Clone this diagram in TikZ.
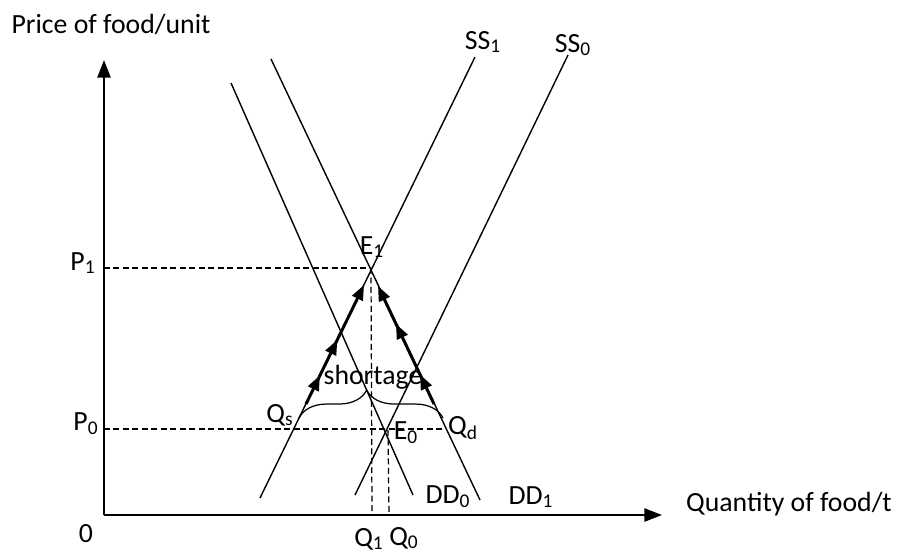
\documentclass[tikz,border=0pt]{standalone}
\usepackage{fontspec}
\setmainfont{Carlito}
\usetikzlibrary{arrows.meta,decorations.pathreplacing,decorations.markings}
\tikzset{
  curve/.style={line width=0.8pt},
  axis/.style={line width=1pt,-{Triangle[length=10pt,width=7.5pt]}},
  guide/.style={line width=0.7pt,dash pattern=on 3.4pt off 2pt},
  lbl/.style={inner sep=0pt,font=\fontsize{15.8}{18}\selectfont},
  flow/.style n args={2}{line width=1.7pt,-{Triangle[length=8.5pt,width=6.5pt]},
    postaction={decorate},
    decoration={markings,
      mark=at position #1 with {\arrow{Triangle[length=8.5pt,width=6.5pt]}},
      mark=at position #2 with {\arrow{Triangle[length=8.5pt,width=6.5pt]}}}},
}
\begin{document}
\begin{tikzpicture}[x=0.02cm,y=-0.02cm]
  \useasboundingbox (0,0) rectangle (899,556);
  % axes
  \coordinate (O) at (104,515);
  \coordinate (ytop) at (104,60);
  \coordinate (xend) at (662,515);
  \draw[axis] (O) -- (ytop);
  \draw[axis] (O) -- (xend);
  % supply and demand curves
  \coordinate (ss1lo) at (260,498);  \coordinate (ss1hi) at (475,57);
  \coordinate (ss0lo) at (355,495);  \coordinate (ss0hi) at (568,55);
  \coordinate (dd0hi) at (231,83);   \coordinate (dd0lo) at (413,495);
  \coordinate (dd1hi) at (271,59);   \coordinate (dd1lo) at (480,500);
  \draw[curve] (ss1lo) -- (ss1hi);
  \draw[curve] (ss0lo) -- (ss0hi);
  \draw[curve] (dd0hi) -- (dd0lo);
  \draw[curve] (dd1hi) -- (dd1lo);
  % equilibria and guide lines
  \coordinate (E1) at (371,268);
  \coordinate (E0) at (388,430);
  \coordinate (p1) at (104,268);
  \coordinate (p0) at (104,429);
  \coordinate (qd) at (445,429);
  \coordinate (q1) at (372,515);
  \coordinate (q0) at (389,515);
  \draw[guide] (p1) -- (E1);
  \draw[guide] (p0) -- (qd);
  \draw[guide] (E1) -- (q1);
  \draw[guide] (E0) -- (q0);
  % movement towards the new equilibrium
  \coordinate (qsup) at (306,404);   \coordinate (stop) at (364,285);
  \coordinate (qdem) at (434,404);   \coordinate (dtop) at (378,286);
  \draw[flow={0.24}{0.54}] (qsup) -- (stop);
  \draw[flow={0.25}{0.68}] (qdem) -- (dtop);
  % shortage brace
  \coordinate (bl) at (299,418);
  \coordinate (br) at (443,418);
  \draw[line width=0.7pt,decorate,decoration={brace,amplitude=15.9pt,aspect=0.47}] (bl) -- (br);
  % labels
  \node[lbl] (ttl) at (111,24) {Price of food/unit};
  \node[lbl] (xttl) at (789,504) {Quantity of food/t};
  \node[lbl] (zero) at (86,534) {0};
  \node[lbl] (P1) at (83,263) {P\textsubscript{1}};
  \node[lbl] (P0) at (86,424) {P\textsubscript{0}};
  \node[lbl] (Q1) at (369,539) {Q\textsubscript{1}};
  \node[lbl] (Q0) at (404,538) {Q\textsubscript{0}};
  \node[lbl] (E1l) at (372,247) {E\textsubscript{1}};
  \node[lbl] (E0l) at (406,433) {E\textsubscript{0}};
  \node[lbl] (Qs) at (280,415) {Q\textsubscript{s}};
  \node[lbl] (Qd) at (463,428) {Q\textsubscript{d}};
  \node[lbl] (short) at (373,377) {shortage};
  \node[lbl] (SS1) at (483,42) {SS\textsubscript{1}};
  \node[lbl] (SS0) at (573,45) {SS\textsubscript{0}};
  \node[lbl] (DD0) at (448,497) {DD\textsubscript{0}};
  \node[lbl] (DD1) at (531,497) {DD\textsubscript{1}};
\end{tikzpicture}
\end{document}
